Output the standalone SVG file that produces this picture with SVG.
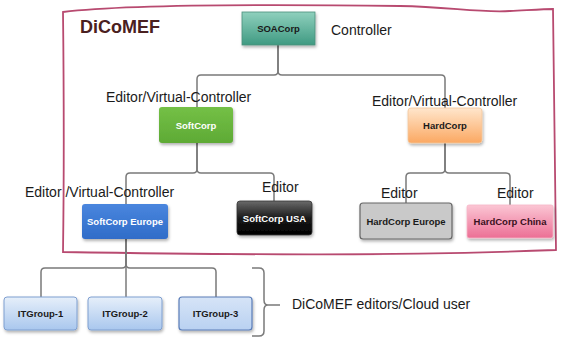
<svg xmlns="http://www.w3.org/2000/svg" width="561" height="339" viewBox="0 0 561 339">
<defs>
<linearGradient id="gTeal" x1="0" y1="0" x2="0" y2="1"><stop offset="0" stop-color="#8fd0bd"/><stop offset="1" stop-color="#3f9a82"/></linearGradient>
<linearGradient id="gGreen" x1="0" y1="0" x2="0" y2="1"><stop offset="0" stop-color="#74c046"/><stop offset="1" stop-color="#5eaa35"/></linearGradient>
<linearGradient id="gPeach" x1="0" y1="0" x2="0" y2="1"><stop offset="0" stop-color="#ffe6cc"/><stop offset="1" stop-color="#fba862"/></linearGradient>
<linearGradient id="gBlue" x1="0" y1="0" x2="0" y2="1"><stop offset="0" stop-color="#4a86de"/><stop offset="1" stop-color="#2f6cc8"/></linearGradient>
<linearGradient id="gBlack" x1="0" y1="0" x2="0" y2="1"><stop offset="0" stop-color="#6a6a6a"/><stop offset="0.5" stop-color="#1a1a1a"/><stop offset="1" stop-color="#000"/></linearGradient>
<linearGradient id="gPink" x1="0" y1="0" x2="0" y2="1"><stop offset="0" stop-color="#fbc6d4"/><stop offset="1" stop-color="#ec6f95"/></linearGradient>
<linearGradient id="gIT" x1="0" y1="0" x2="0" y2="1"><stop offset="0" stop-color="#e6effa"/><stop offset="1" stop-color="#a9c7ee"/></linearGradient>
<linearGradient id="gIT3" x1="0" y1="0" x2="0" y2="1"><stop offset="0" stop-color="#d6e4f7"/><stop offset="1" stop-color="#b9d1f1"/></linearGradient>
<filter id="sh" x="-20%" y="-20%" width="140%" height="150%"><feDropShadow dx="1" dy="2" stdDeviation="1.5" flood-color="#000" flood-opacity="0.3"/></filter>
</defs>
<style>
.lbl{font-family:"Liberation Sans",Arial,sans-serif;font-size:14px;fill:#1a1a1a}
.nt{font-family:"Liberation Sans",Arial,sans-serif;font-size:9.5px;font-weight:bold;text-anchor:middle}
.box{filter:url(#sh)}
.con{fill:none;stroke:#7a7a7a;stroke-width:1.5}
</style>
<rect width="561" height="339" fill="#fff"/>
<path d="M63,12 C120,5 250,4 400,6 C450,7 480,13 510,11 C530,10 545,9 553,9 C554,90 555,170 556,250 C400,256 250,255 63,252 C64,180 64,100 63,12 Z" fill="none" stroke="#b84a70" stroke-width="1.8"/>
<text x="80" y="33" style="font-family:'Liberation Sans',Arial,sans-serif;font-size:18px;font-weight:bold;fill:#4a2020">DiCoMEF</text>
<g id="connectors">
<path class="con" d="M278,45 V71 Q278,75 274,75 H201 Q197,75 197,79 V107"/>
<path class="con" d="M278,45 V71 Q278,75 282,75 H441 Q445,75 445,79 V108"/>
<path class="con" d="M197,143 V169 Q197,173 193,173 H130 Q126,173 126,177 V204"/>
<path class="con" d="M197,143 V169 Q197,173 201,173 H270 Q274,173 274,177 V201"/>
<path class="con" d="M445,143 V169 Q445,173 441,173 H410 Q406,173 406,177 V203"/>
<path class="con" d="M445,143 V169 Q445,173 449,173 H506 Q510,173 510,177 V205"/>
<path class="con" d="M126,239 V264 Q126,268 122,268 H45 Q41,268 41,272 V297"/>
<path class="con" d="M126,239 V297"/>
<path class="con" d="M126,239 V264 Q126,268 130,268 H212 Q216,268 216,272 V297"/>
<path class="con" d="M252,268 H259 Q264,268 264,273 V300 Q264,305 268,305 H280 M268,305 Q264,305 264,310 V331 Q264,336 259,336 H252" stroke="#6a7fa8"/>
</g>
<g id="SOACorp"><rect class="box" x="242" y="12" width="73" height="33" fill="url(#gTeal)" stroke="#4c8f7c" stroke-width="0.8"/><text class="nt" x="278.5" y="32" fill="#1a1a1a">SOACorp</text></g>
<text class="lbl" x="331" y="35">Controller</text>
<g id="SoftCorp"><rect class="box" x="159" y="107" width="74" height="36" rx="3" fill="url(#gGreen)"/><text class="nt" x="196" y="129" fill="#fff">SoftCorp</text></g>
<text class="lbl" x="106" y="102">Editor/Virtual-Controller</text>
<g id="HardCorp"><rect class="box" x="408" y="108" width="74" height="35" rx="3" fill="url(#gPeach)" stroke="#f3c69c" stroke-width="0.8"/><text class="nt" x="445" y="129" fill="#1a1a1a">HardCorp</text></g>
<text class="lbl" x="372" y="106">Editor/Virtual-Controller</text>
<g id="SoftCorpEurope"><rect class="box" x="82" y="204" width="86" height="35" rx="3" fill="url(#gBlue)"/><text class="nt" x="125" y="225" fill="#fff">SoftCorp Europe</text></g>
<text class="lbl" x="25" y="197">Editor /Virtual-Controller</text>
<g id="SoftCorpUSA"><rect class="box" x="237" y="201" width="75" height="34" rx="3" fill="url(#gBlack)" stroke="#333" stroke-width="0.8"/><text class="nt" x="274.5" y="222" fill="#fff">SoftCorp USA</text></g>
<text class="lbl" x="262" y="192">Editor</text>
<g id="HardCorpEurope"><rect class="box" x="360" y="203" width="92" height="36" rx="3" fill="#c9c9c9" stroke="#666" stroke-width="1.2"/><text class="nt" x="406" y="225" fill="#1a1a1a">HardCorp  Europe</text></g>
<text class="lbl" x="381" y="198">Editor</text>
<g id="HardCorpChina"><rect class="box" x="467" y="205" width="86" height="33" rx="2" fill="url(#gPink)" stroke="#f7b6c8" stroke-width="0.8"/><text class="nt" x="510" y="225" fill="#3a1020">HardCorp China</text></g>
<text class="lbl" x="497" y="198">Editor</text>
<g id="ITGroup-1"><rect class="box" x="4" y="297" width="73" height="33" rx="3" fill="url(#gIT)" stroke="#7f9fd0" stroke-width="1"/><text class="nt" x="40.5" y="317" fill="#1a1a1a">ITGroup-1</text></g>
<g id="ITGroup-2"><rect class="box" x="88" y="297" width="74" height="33" rx="3" fill="url(#gIT)" stroke="#7f9fd0" stroke-width="1"/><text class="nt" x="125" y="317" fill="#1a1a1a">ITGroup-2</text></g>
<g id="ITGroup-3"><rect class="box" x="179" y="297" width="73" height="33" rx="3" fill="url(#gIT3)" stroke="#5a7db8" stroke-width="1.2"/><text class="nt" x="215.5" y="317" fill="#1a1a1a">ITGroup-3</text></g>
<text class="lbl" x="292" y="309">DiCoMEF editors/Cloud user</text>
</svg>
